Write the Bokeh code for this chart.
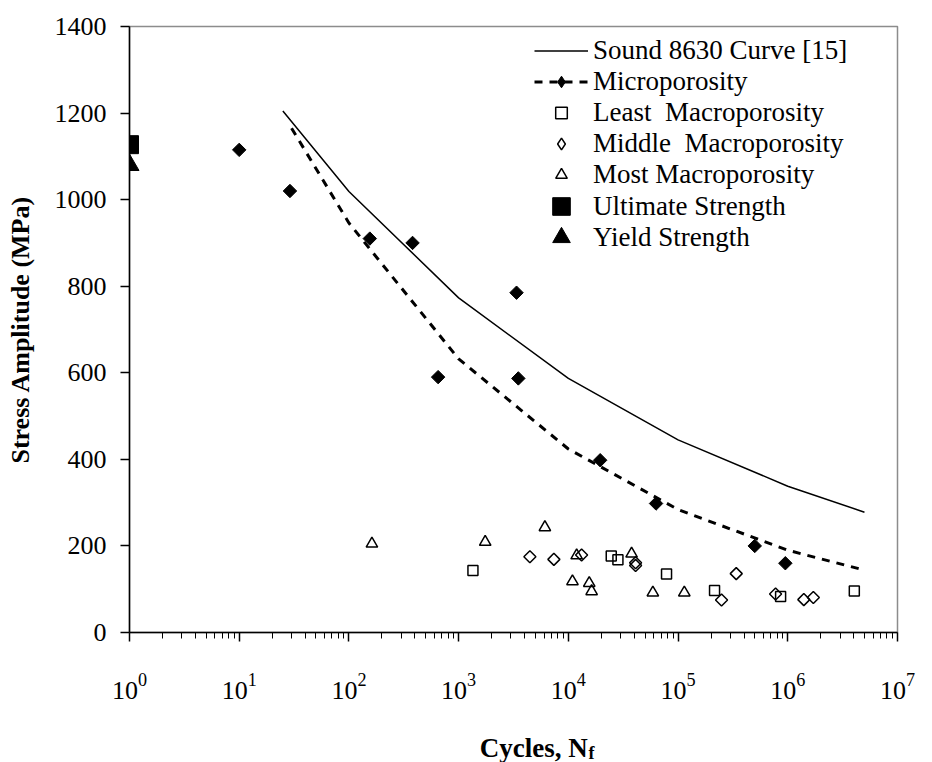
import math
from bokeh.plotting import figure
from bokeh.layouts import column
from bokeh.models import (FixedTicker, Legend, LegendItem, LogTickFormatter, Range1d)
from bokeh.core.properties import value
from bokeh.embed import file_html
from bokeh.resources import INLINE

# ---------------- data ----------------
sound_n = [25, 100, 1000, 1e4, 1e5, 1e6, 5e6]
sound_s = [1205, 1019, 773, 587, 445, 338, 278]

micro_fit_n = [30, 100, 1000, 1e4, 1e5, 1e6, 4.5e6]
micro_fit_s = [1165, 946, 632, 424, 284, 190, 147]

micro_n = [10, 29, 155, 380, 650, 3370, 3500, 19500, 63000, 500000, 950000]
micro_s = [1115, 1020, 910, 900, 590, 785, 587, 398, 298, 200, 160]

least_n = [1350, 24600, 28300, 78500, 215000, 860000, 4.04e6]
least_s = [143, 177, 168, 135, 97, 83, 96]

middle_n = [4460, 7380, 13200, 41000, 41000, 249000, 339000, 774000, 1.40e6, 1.71e6]
middle_s = [175, 169, 179, 161, 155, 75, 136, 89, 76, 81]

most_n = [162, 1746, 6110, 10900, 11900, 15500, 16300, 37700, 58900, 114000]
most_s = [205, 209, 243, 118, 178, 114, 95, 182, 92, 92]

ult_n = [1]
ult_s = [1127]
yield_n = [1]
yield_s = [1080]

legend_labels = ["Sound 8630 Curve [15]", "Microporosity", "Least  Macroporosity",
                 "Middle  Macroporosity", "Most Macroporosity", "Ultimate Strength",
                 "Yield Strength"]

x_title = "Cycles, N"
x_title_sub = "f"
y_title = "Stress Amplitude (MPa)"

x_major = [1, 10, 100, 1000, 1e4, 1e5, 1e6, 1e7]
x_minor = [k * d for d in x_major[:-1] for k in range(2, 10)]
y_major = [0, 200, 400, 600, 800, 1000, 1200, 1400]

NAN = [float("nan")]  # legend-key-only glyphs (never drawn in the plot area)

FONT = "Liberation Serif"
W = 932
H_MAIN = 710
H_TITLE = 762 - H_MAIN

p = figure(width=W, height=H_MAIN, x_axis_type="log",
           x_range=Range1d(1, 1e7), y_range=Range1d(0, 1400),
           output_backend="svg", toolbar_location=None,
           min_border_left=129, min_border_right=35,
           min_border_top=26, min_border_bottom=H_MAIN - 632)
p.xgrid.visible = False
p.ygrid.visible = False
p.outline_line_color = "#8c8c8c"
p.outline_line_width = 1.5
p.background_fill_color = "white"
p.border_fill_color = "white"

xa = p.xaxis[0]
xa.ticker = FixedTicker(ticks=x_major, minor_ticks=x_minor)
xa.formatter = LogTickFormatter()
ya = p.yaxis[0]
ya.ticker = FixedTicker(ticks=y_major)

for ax in (xa, ya):
    ax.axis_line_color = "black"
    ax.axis_line_width = 1.5
    ax.major_tick_line_color = "black"
    ax.major_tick_line_width = 1.5
    ax.minor_tick_line_color = "black"
    ax.minor_tick_line_width = 1
    ax.major_tick_in = 0
    ax.major_tick_out = 9
    ax.minor_tick_in = 0
    ax.major_label_text_font = FONT
    ax.major_label_text_font_size = "26px"
    ax.major_label_text_color = "black"

xa.minor_tick_out = 6
xa.major_label_standoff = 32
ya.minor_tick_out = 0
ya.major_label_standoff = 14

ya.axis_label = y_title
ya.axis_label_text_font = FONT
ya.axis_label_text_font_size = "26px"
ya.axis_label_text_font_style = "bold"
ya.axis_label_text_color = "black"
ya.axis_label_standoff = 17

# ---------------- glyphs ----------------
r_sound = p.line(sound_n, sound_s, line_color="black", line_width=1.5)
r_fit = p.line(micro_fit_n, micro_fit_s, line_color="black", line_width=3, line_dash="8 7")
r_micro = p.scatter(micro_n, micro_s, marker="square", angle=math.pi / 4, size=9.5,
                    fill_color="black", line_color="black", line_width=1)
r_least = p.scatter(least_n, least_s, marker="square", size=10,
                    fill_color=None, line_color="black", line_width=1.5)
r_middle = p.scatter(middle_n, middle_s, marker="square", angle=math.pi / 4, size=8.5,
                     fill_color=None, line_color="black", line_width=1.5)
r_most = p.scatter(most_n, most_s, marker="triangle", size=11.5,
                   fill_color=None, line_color="black", line_width=1.5)
r_ult = p.scatter(ult_n, ult_s, marker="square", size=18,
                  fill_color="black", line_color="black")
r_yield = p.scatter(yield_n, yield_s, marker="triangle", size=19,
                    fill_color="black", line_color="black")

# key-only glyphs so that the diamonds show as diamonds in the legend
k_micro = p.scatter(x=NAN, y=NAN, marker="diamond", fill_color="black", line_color="black")
k_middle = p.scatter(x=NAN, y=NAN, marker="diamond", fill_color=None,
                     line_color="black", line_width=1.5)

legend_style = dict(border_line_color=None, background_fill_alpha=0,
                    label_text_font=FONT, label_text_font_size="27px",
                    label_text_color="black", glyph_width=54,
                    spacing=0, padding=0, margin=0, label_standoff=5)

items_small = [
    LegendItem(label=legend_labels[0], renderers=[r_sound]),
    LegendItem(label=legend_labels[1], renderers=[r_fit, k_micro]),
    LegendItem(label=legend_labels[2], renderers=[r_least]),
    LegendItem(label=legend_labels[3], renderers=[k_middle]),
    LegendItem(label=legend_labels[4], renderers=[r_most]),
]
leg1 = Legend(items=items_small, location=(405, 442), glyph_height=29, label_height=29,
              **legend_style)
leg_u = Legend(items=[LegendItem(label=legend_labels[5], renderers=[r_ult])],
               location=(405, 404), glyph_height=44, label_height=29, **legend_style)
leg_y = Legend(items=[LegendItem(label=legend_labels[6], renderers=[r_yield])],
               location=(405, 373), glyph_height=44, label_height=29, **legend_style)
for lg in (leg1, leg_u, leg_y):
    p.add_layout(lg)

# ---------------- x axis title strip (with subscript) ----------------
t = figure(width=W, height=H_TITLE, x_range=Range1d(0, W), y_range=Range1d(0, H_TITLE),
           output_backend="svg", toolbar_location=None, min_border=0,
           x_axis_type=None, y_axis_type=None)
t.xgrid.visible = False
t.ygrid.visible = False
t.outline_line_color = None
t.background_fill_color = "white"
t.border_fill_color = "white"
t.text(x=[556], y=[15], text=[x_title], text_align="right", text_baseline="alphabetic",
       text_font=value(FONT), text_font_size="27px", text_font_style="bold",
       text_color="black")
t.text(x=[557], y=[10], text=[x_title_sub], text_align="left", text_baseline="alphabetic",
       text_font=value(FONT), text_font_size="18px", text_font_style="bold",
       text_color="black")

layout = column(p, t, spacing=0)
open("out.html", "w").write(file_html(layout, INLINE))
